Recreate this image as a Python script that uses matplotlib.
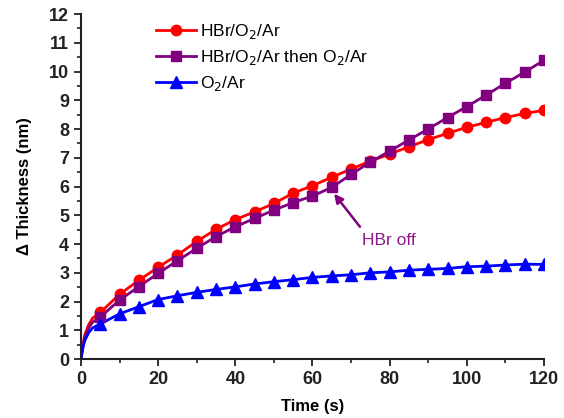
import matplotlib
matplotlib.use("Agg")
import matplotlib.pyplot as plt
from matplotlib.ticker import MultipleLocator

plt.rcParams['font.family'] = ['Liberation Sans', 'DejaVu Sans']

# Time (s)
t_early = [0, 0.5, 1, 2, 3]
t_mark = [5, 10, 15, 20, 25, 30, 35, 40, 45, 50, 55, 60, 65, 70, 75, 80,
          85, 90, 95, 100, 105, 110, 115, 120]

# HBr/O2/Ar
red_early = [0, 0.5, 0.85, 1.2, 1.42]
red_mark = [1.62, 2.25, 2.74, 3.19, 3.62, 4.09, 4.51, 4.85, 5.12, 5.41, 5.77,
            6.03, 6.32, 6.61, 6.88, 7.13, 7.38, 7.63, 7.85, 8.06, 8.23, 8.40,
            8.54, 8.65]

# HBr/O2/Ar then O2/Ar
pur_early = [0, 0.45, 0.75, 1.08, 1.28]
pur_mark = [1.46, 2.05, 2.52, 2.98, 3.42, 3.85, 4.26, 4.60, 4.89, 5.18, 5.44,
            5.67, 5.97, 6.42, 6.85, 7.23, 7.62, 8.00, 8.40, 8.78, 9.18, 9.59,
            9.98, 10.39]

# O2/Ar
blu_early = [0, 0.4, 0.65, 0.92, 1.08]
blu_mark = [1.22, 1.57, 1.82, 2.07, 2.20, 2.32, 2.42, 2.51, 2.61, 2.69, 2.76,
            2.84, 2.89, 2.93, 3.00, 3.03, 3.09, 3.12, 3.15, 3.21, 3.23, 3.27,
            3.30, 3.29]

labels = ['HBr/O$_2$/Ar', 'HBr/O$_2$/Ar then O$_2$/Ar', 'O$_2$/Ar']
colors = ['#FF0000', '#800080', '#0000FF']
markers = ['o', 's', '^']
msizes = [7.5, 7, 8]

fig = plt.figure(figsize=(5.64, 4.18), dpi=100)
ax = fig.add_axes([0.1436, 0.1411, 0.8209, 0.8254])

series = [(red_early, red_mark), (pur_early, pur_mark), (blu_early, blu_mark)]
for (e, m), lab, c, mk, ms in zip(series, labels, colors, markers, msizes):
    ax.plot(t_early + t_mark, e + m, color=c, lw=2, zorder=2)
    ax.plot(t_mark, m, color=c, lw=0, marker=mk, ms=ms, zorder=3)
    ax.plot([], [], color=c, lw=2, marker=mk, ms=ms, label=lab)

ax.set_xlim(0, 120)
ax.set_ylim(0, 12)
ax.xaxis.set_major_locator(MultipleLocator(20))
ax.xaxis.set_minor_locator(MultipleLocator(10))
ax.yaxis.set_major_locator(MultipleLocator(1))
ax.yaxis.set_minor_locator(MultipleLocator(0.5))
for s in ['top', 'right']:
    ax.spines[s].set_visible(False)
for s in ['left', 'bottom']:
    ax.spines[s].set_linewidth(1.5)
    ax.spines[s].set_color('#222222')
ax.tick_params(which='major', direction='out', length=5, width=1.3, labelsize=13,
               colors='#222222')
ax.tick_params(which='minor', direction='out', length=3, width=1.2, colors='#222222')
for lbl in ax.get_xticklabels() + ax.get_yticklabels():
    lbl.set_fontweight('bold')

ax.set_xlabel('Time (s)', fontsize=12, fontweight='bold', labelpad=8)
ax.set_ylabel('Δ Thickness (nm)', fontsize=12, fontweight='bold', labelpad=12)

leg = ax.legend(loc='upper left', bbox_to_anchor=(0.14, 1.007), frameon=False,
                fontsize=12.5, handlelength=2.3, handletextpad=0.2,
                labelspacing=0.4, borderaxespad=0.2)

ax.text(72.8, 4.12, 'HBr off', color='#8B1A8B', fontsize=12.5,
        va='center', ha='left')
ax.annotate('', xy=(65.6, 5.75), xytext=(72.3, 4.6),
            arrowprops=dict(arrowstyle='-|>', color='#800080', lw=1.8,
                            mutation_scale=13, shrinkA=0, shrinkB=0))

fig.savefig('out.png', dpi=100)
